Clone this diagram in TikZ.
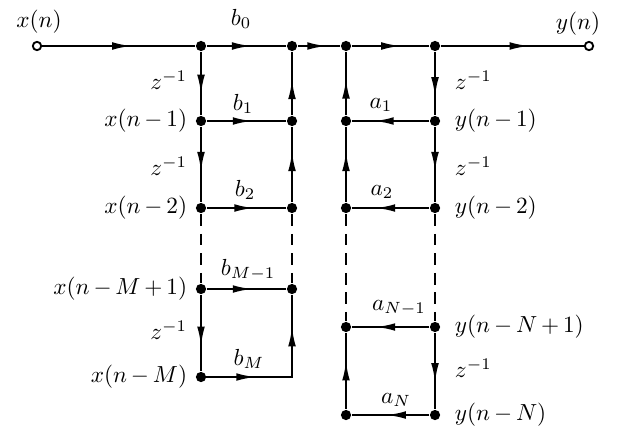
\documentclass[tikz,border=0pt]{standalone}
\usetikzlibrary{arrows.meta,decorations.markings}
\begin{document}
\begin{tikzpicture}[x=0.43pt,y=-0.43pt,line width=1pt,
  dot/.style={circle,fill,inner sep=0pt,minimum size=4.4pt},
  port/.style={circle,draw,fill=white,inner sep=0pt,minimum size=3.6pt,line width=0.8pt},
  flow/.style={postaction={decorate,decoration={markings,mark=at position #1 with {\arrow{Latex[length=8.6pt,width=3.3pt]}}}}},
  flow/.default=0.62,
  gap/.style={dash pattern=on 5pt off 3.4pt}]
\useasboundingbox (0,0) rectangle (623,435);
% signal points
\node[port] (xin) at (37,46) {};
\node[dot] (x0) at (201,46) {};
\node[dot] (s0) at (292,46) {};
\node[dot] (t0) at (346,46) {};
\node[dot] (y0) at (435,46) {};
\node[port] (yout) at (589,46) {};
\node[dot] (x1) at (201,121) {};
\node[dot] (s1) at (292,121) {};
\node[dot] (t1) at (346,121) {};
\node[dot] (y1) at (435,121) {};
\node[dot] (x2) at (201,208) {};
\node[dot] (s2) at (292,208) {};
\node[dot] (t2) at (346,208) {};
\node[dot] (y2) at (435,208) {};
\node[dot] (xm1) at (201,289) {};
\node[dot] (sm1) at (292,289) {};
\node[dot] (xm) at (201,377) {};
\coordinate (sm) at (292,377);
\node[dot] (tn1) at (346,327) {};
\node[dot] (yn1) at (435,327) {};
\node[dot] (tn) at (346,415) {};
\node[dot] (yn) at (435,415) {};
% main line
\draw[flow=0.59] (xin) -- (x0);
\draw[flow=0.57] (x0) -- (s0);
\draw[flow=0.7] (s0) -- (t0);
\draw[flow=0.64] (t0) -- (y0);
\draw[flow] (y0) -- (yout);
% feed-forward part
\draw[flow=0.68] (x0) -- (x1);
\draw[flow=0.58] (x1) -- (s1);
\draw[flow=0.57] (s1) -- (s0);
\draw[flow=0.6] (x1) -- (x2);
\draw[flow=0.6] (x2) -- (s2);
\draw[flow=0.68] (s2) -- (s1);
\draw[gap] (x2) -- (xm1);
\draw[gap] (s2) -- (sm1);
\draw[flow=0.58] (xm1) -- (sm1);
\draw[flow=0.68] (xm1) -- (xm);
\draw[flow=0.32,flow=0.82] (xm.center) -- (sm) -- (sm1);
% feedback part
\draw[flow=0.58] (t1) -- (t0);
\draw[flow=0.72] (y0) -- (y1);
\draw[flow=0.72] (y1) -- (t1);
\draw[flow=0.68] (t2) -- (t1);
\draw[flow=0.6] (y1) -- (y2);
\draw[flow=0.7] (y2) -- (t2);
\draw[gap] (t2) -- (tn1);
\draw[gap] (y2) -- (yn1);
\draw[flow=0.7] (yn1) -- (tn1);
\draw[flow=0.64] (tn) -- (tn1);
\draw[flow=0.66] (yn1) -- (yn);
\draw[flow=0.56] (yn) -- (tn);
% labels
\node (lxin) at (39,22) {$x(n)$};
\node (lyout) at (578,24) {$y(n)$};
\node (lb0) at (241,19) {$b_0$};
\node (lb1) at (243,104) {$b_1$};
\node (lb2) at (245,190) {$b_2$};
\node (lbm1) at (248,270) {$b_{M-1}$};
\node (lbm) at (249,359) {$b_M$};
\node (la1) at (381,105) {$a_1$};
\node (la2) at (382,192) {$a_2$};
\node (lan1) at (399,308) {$a_{N-1}$};
\node (lan) at (396,400) {$a_N$};
\node[anchor=east] (lz1) at (196,80) {$z^{-1}$};
\node[anchor=east] (lz2) at (196,166) {$z^{-1}$};
\node[anchor=east] (lz3) at (196,330) {$z^{-1}$};
\node[anchor=west] (lz4) at (446,80) {$z^{-1}$};
\node[anchor=west] (lz5) at (446,166) {$z^{-1}$};
\node[anchor=west] (lz6) at (446,368) {$z^{-1}$};
\node[anchor=east] (lx1) at (196,121) {$x(n\,{-}\,1)$};
\node[anchor=east] (lx2) at (196,208) {$x(n\,{-}\,2)$};
\node[anchor=east] (lxm1) at (196,289) {$x(n\,{-}\,M\,{+}\,1)$};
\node[anchor=east] (lxm) at (196,377) {$x(n\,{-}\,M)$};
\node[anchor=west] (ly1) at (446,121) {$y(n\,{-}\,1)$};
\node[anchor=west] (ly2) at (446,208) {$y(n\,{-}\,2)$};
\node[anchor=west] (lyn1) at (446,327) {$y(n\,{-}\,N\,{+}\,1)$};
\node[anchor=west] (lyn) at (446,415) {$y(n\,{-}\,N)$};
\end{tikzpicture}
\end{document}
